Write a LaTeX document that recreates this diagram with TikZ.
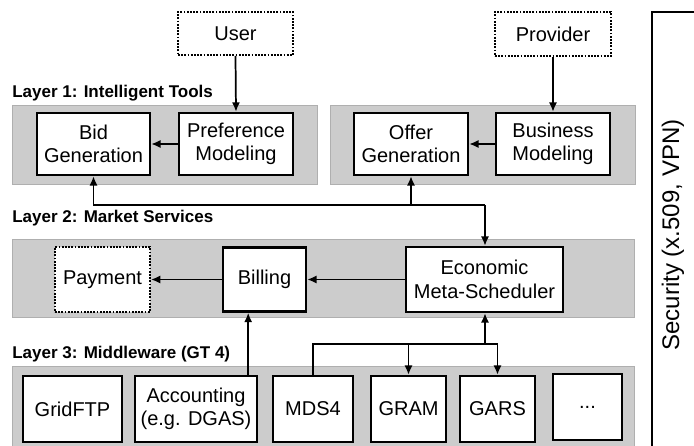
\documentclass[tikz,border=0pt]{standalone}
\usepackage{fontspec}
\setmainfont{Liberation Sans}
\usetikzlibrary{arrows.meta,calc}
\definecolor{panelgray}{RGB}{204,204,204}
\definecolor{paneledge}{RGB}{175,175,175}
\begin{document}
\begin{tikzpicture}[x=0.75pt,y=0.75pt,yscale=-1,xscale=1,
    panel/.style={fill=panelgray,draw=paneledge,line width=0.6pt},
    box/.style={draw,fill=white,line width=1.8pt,inner sep=0pt,align=center,font=\fontsize{15}{17.5}\selectfont},
    actor/.style={box,line width=1.4pt,densely dotted},
    wh/.style 2 args={minimum width=#1*0.75pt,minimum height=#2*0.75pt},
    layerlabel/.style={anchor=base west,inner sep=0pt,font=\fontsize{12.75}{15}\selectfont\bfseries},
    arr/.style={line width=1.3pt,-{Latex[length=7pt,width=6pt]}},
    link/.style={line width=1.3pt}]
    \clip (0,0) rectangle (694,446);
    %Shape: layer panels
    \draw[panel] (12,105) rectangle (317,184);
    \draw[panel] (330,105) rectangle (635,184);
    \draw[panel] (12,239) rectangle (634,317);
    \draw[panel] (12,366) rectangle (634,452);
    %Shape: security frame
    \draw[line width=1.5pt] (652,452) -- (652,12) -- (700,12);

    % actors
    \node[actor,wh={115}{43}] (user) at (235.5,33.5) {User};
    \node[actor,wh={116}{44}] (provider) at (553,34) {Provider};
    % layer 1
    \node[box,wh={113}{62}] (bid) at (93.5,144) {Bid\\Generation};
    \node[box,wh={114}{62}] (pref) at (236,144) {Preference\\Modeling};
    \node[box,wh={114}{62}] (offer) at (411,144) {Offer\\Generation};
    \node[box,wh={114}{62}] (business) at (553,144) {Business\\Modeling};
    % layer 2
    \node[actor,wh={95}{65}] (payment) at (102.5,279.5) {Payment};
    \node[box,wh={83}{64}] (billing) at (264.5,279.5) {Billing};
    \node[box,wh={157}{65}] (ems) at (484.5,279.5) {Economic\\Meta-Scheduler};
    % layer 3
    \node[box,wh={99}{66}] (gridftp) at (72.5,409) {GridFTP};
    \node[box,wh={122}{66}] (accounting) at (196,409) {Accounting\\(e.g. DGAS)};
    \node[box,wh={80}{66}] (mds) at (313,409) {MDS4};
    \node[box,wh={75}{66}] (gram) at (408.5,409) {GRAM};
    \node[box,wh={75}{66}] (gars) at (497.5,409) {GARS};
    \node[box,wh={69}{66}] (more) at (587.5,407) {...};

    % Text Node
    \node[layerlabel] (layer1) at (12,97) {Layer 1: Intelligent Tools};
    \node[layerlabel] (layer2) at (12,222) {Layer 2: Market Services};
    \node[layerlabel] (layer3) at (12,358) {Layer 3: Middleware (GT 4)};
    \node[rotate=90,inner sep=0pt,font=\fontsize{18}{20}\selectfont] (security) at (673,235) {Security (x.509, VPN)};

    %Straight Lines
    \draw[arr] (user.south) -- (pref.north);
    \draw[arr] (provider.south) -- (business.north);
    \draw[arr] (pref) -- (bid);
    \draw[arr] (business) -- (offer);
    \coordinate (upper) at (485,205);
    \draw[arr] (upper) -| (bid.south);
    \draw[arr] (upper) -| (offer.south);
    \draw[arr] (upper) -- (upper |- ems.north);
    \draw[arr] (ems) -- (billing);
    \draw[arr] (billing) -- (payment);
    \coordinate (acctop) at ($(accounting.north east)+(-10,0)$);
    \draw[arr] (acctop) -- (acctop |- billing.south);
    \coordinate (lower) at (485,344);
    \draw[arr] (lower) -- (lower |- ems.south);
    \draw[link] (mds.north) |- (lower);
    \draw[arr] (lower) -| (gram.north);
    \draw[arr] (lower) -| (gars.north);
\end{tikzpicture}
\end{document}
